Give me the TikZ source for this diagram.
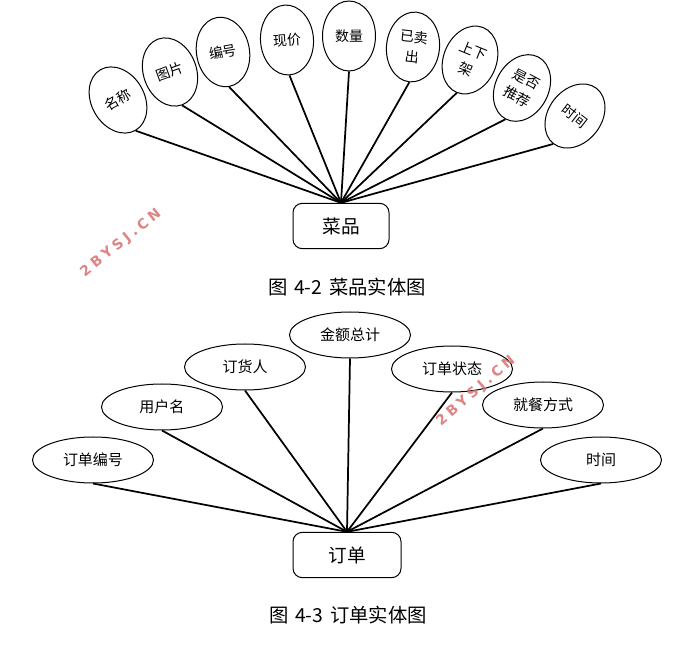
\documentclass[tikz,border=0pt]{standalone}
\usepackage{fontspec}
\setmainfont{Noto Sans CJK SC}
\newfontfamily\wmfont[LetterSpace=27]{DejaVu Sans Bold}
\usetikzlibrary{shapes.geometric}
\definecolor{wmred}{RGB}{215,110,110}

\begin{document}
\begin{tikzpicture}[x=0.75pt,y=0.75pt,yscale=-1,xscale=1,
    attr/.style={draw, ellipse, line width=0.75pt, inner sep=0pt, minimum width=39.75pt, minimum height=52.5pt, align=center, font=\fontsize{10.5}{15}\selectfont},
    attrw/.style={draw, ellipse, line width=0.75pt, inner sep=0pt, minimum width=90.75pt, minimum height=34.5pt, font=\fontsize{11.25}{12}\selectfont},
    ent/.style={draw, rounded corners=7pt, line width=0.75pt, minimum height=34pt, font=\fontsize{14}{16}\selectfont},
    link/.style={line width=1.3pt},
    figcap/.style={font=\fontsize{14.5}{16}\selectfont},
    wmark/.style={text=wmred, opacity=0.85, font=\wmfont\fontsize{10.5}{12}\selectfont}]
\useasboundingbox (0,0) rectangle (687,649);

% dish entity
\node [ent, minimum width=72pt] (dish) at (341,226) {菜品};
\node [attr, rotate=30] (dname) at (118,100) {名称};
\node [attr, rotate=20] (dpic) at (170,72) {图片};
\node [attr, rotate=10] (dno) at (223,52) {编号};
\node [attr, rotate=4] (dprice) at (287,40) {现价};
\node [attr] (dnum) at (349,36) {数量};
\node [attr, rotate=-6] (dsold) at (413,47) {已卖\\出};
\node [attr, rotate=-22] (dshelf) at (470,60) {上下\\架};
\node [attr, rotate=-28] (drec) at (522,88) {是否\\推荐};
\node [attr, rotate=-38] (dtime) at (575,116) {时间};
\foreach \a in {dname,dpic,dno,dprice,dnum,dsold,dshelf,drec,dtime}
  \draw [link] (\a.south) -- (dish.north);
% Text Node
\node [figcap] (cap1) at (347,287) {图\hspace{0.35em}4-2\hspace{0.35em}菜品实体图};

% order entity
\node [ent, minimum width=81pt] (order) at (347,555) {订单};
\node [attrw] (ono) at (93,460) {订单编号};
\node [attrw] (ouser) at (162,407) {用户名};
\node [attrw] (obuyer) at (245,367) {订货人};
\node [attrw] (osum) at (350,335) {金额总计};
\node [attrw] (ostate) at (452,369) {订单状态};
\node [attrw] (oway) at (543,405) {就餐方式};
\node [attrw] (otime) at (601,460) {时间};
\foreach \a in {ono,ouser,obuyer,osum,ostate,oway,otime}
  \draw [link] (\a.south) -- (order.north);
% Text Node
\node [figcap] (cap2) at (348,615) {图\hspace{0.35em}4-3\hspace{0.35em}订单实体图};

% watermarks
\node [wmark, rotate=39] (wm1) at (121,243) {2BYSJ.CN};
\node [wmark, rotate=41] (wm2) at (476,391) {2BYSJ.CN};
\end{tikzpicture}
\end{document}
